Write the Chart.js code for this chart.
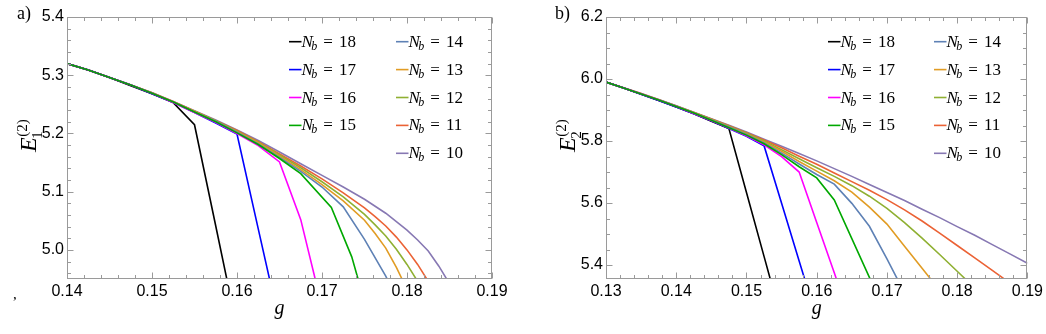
<!DOCTYPE html>
<html><head><meta charset="utf-8">
<script src="https://cdn.jsdelivr.net/npm/chart.js@4.4.1/dist/chart.umd.min.js"></script>
<style>
html,body{margin:0;padding:0;background:#fff;}
#wrap{position:relative;width:1046px;height:334px;overflow:hidden;}
canvas{position:absolute;left:0;top:0;}
</style></head><body>
<div id="wrap"><canvas id="ca" width="1046" height="334"></canvas><canvas id="cb" width="1046" height="334"></canvas></div>
<script>
// ---------- data: panel a) E1^(2) vs g ----------
const gA = [0.14,0.1425,0.145,0.1475,0.15,0.1525,0.155,0.1575,0.16,0.1625,0.165,0.1675,0.17,0.1725,0.175];
const eA10 = [5.320,5.309,5.296,5.283,5.270,5.255,5.239,5.223,5.206,5.188,5.168,5.148,5.128,5.108,5.087];
const tailA10 = [[0.1775,5.063],[0.18,5.034],[0.18125,5.017],[0.1825,4.998],[0.18375,4.972],[0.185,4.942],[0.18625,4.905]];
const eA11 = [5.320,5.309,5.296,5.283,5.270,5.255,5.238,5.222,5.205,5.186,5.165,5.144,5.122,5.098,5.072];
const tailA11 = [[0.17625,5.057],[0.1775,5.041],[0.17875,5.022],[0.18,5.000],[0.18125,4.975],[0.1825,4.946],[0.18375,4.912]];
const eA12 = [5.320,5.309,5.296,5.283,5.270,5.254,5.238,5.222,5.204,5.185,5.163,5.141,5.117,5.091,5.061];
const tailA12 = [[0.17625,5.043],[0.1775,5.024],[0.17875,5.001],[0.18,4.975],[0.18125,4.946],[0.1825,4.915]];
const eA13 = [5.320,5.309,5.296,5.283,5.269,5.254,5.238,5.221,5.203,5.184,5.161,5.138,5.112,5.084,5.051];
const tailA13 = [[0.17625,5.028],[0.1775,5.003],[0.17875,4.970],[0.18,4.932]];
const eA14 = [5.320,5.309,5.296,5.283,5.269,5.254,5.237,5.221,5.202,5.182,5.159,5.135,5.108,5.074,5.018];
const tailA14 = [[0.1775,4.955],[0.18,4.880]];
const eA15 = [5.320,5.309,5.296,5.283,5.269,5.254,5.237,5.220,5.201,5.181,5.157,5.131];
const tailA15 = [[0.1711,5.073],[0.1735,4.988],[0.176,4.860]];
const eA16 = [5.320,5.309,5.296,5.283,5.269,5.253,5.236,5.219,5.200,5.179,5.151,5.052,4.902];
const eA17 = [5.320,5.309,5.296,5.283,5.268,5.253,5.236,5.218,5.199,5.036,4.874];
const eA18 = [5.320,5.309,5.296,5.282,5.268,5.253,5.215,5.041,4.866];

// ---------- data: panel b) E2^(2) vs g ----------
const gB = [0.13,0.1325,0.135,0.1375,0.14,0.1425,0.145,0.1475,0.15,0.1525,0.155,0.1575,0.16,0.1625,0.165,0.1675,0.17,0.1725,0.175,0.1775,0.18,0.1825,0.185,0.1875,0.19];
const eB10 = [5.990,5.972,5.953,5.934,5.914,5.893,5.872,5.851,5.829,5.806,5.783,5.760,5.736,5.711,5.686,5.660,5.634,5.608,5.580,5.553,5.524,5.496,5.466,5.436,5.406];
const eB11 = [5.990,5.972,5.953,5.933,5.913,5.892,5.871,5.849,5.827,5.803,5.778,5.751,5.725,5.697,5.669,5.641,5.611,5.578,5.542,5.503,5.463,5.423,5.383,5.342];
const eB12 = [5.990,5.971,5.952,5.933,5.913,5.892,5.870,5.848,5.825,5.800,5.772,5.743,5.714,5.686,5.656,5.622,5.583,5.537,5.487,5.434,5.380,5.326];
const eB13 = [5.990,5.971,5.952,5.933,5.912,5.891,5.869,5.846,5.823,5.797,5.767,5.734,5.703,5.672,5.635,5.587,5.532,5.461,5.390,5.318];
const eB14 = [5.990,5.971,5.952,5.932,5.912,5.890,5.868,5.845,5.821,5.794,5.761,5.726,5.692,5.661,5.599,5.525,5.420,5.310];
const eB15 = [5.990,5.971,5.952,5.932,5.911,5.890,5.867,5.843,5.819,5.791,5.756,5.717,5.681,5.610,5.485,5.360,5.235];
const eB16 = [5.990,5.971,5.952,5.932,5.911,5.889,5.866,5.842,5.817,5.788,5.750,5.700,5.537,5.375,5.210];
const eB17 = [5.990,5.971,5.951,5.931,5.910,5.888,5.865,5.840,5.815,5.785,5.599,5.413,5.227];
const eB18 = [5.990,5.971,5.951,5.931,5.910,5.888,5.864,5.840,5.634,5.428,5.222];

// ---------- ticks & legend ----------
const xTicksA = [0.14,0.15,0.16,0.17,0.18,0.19];
const xLabelsA = ['0.14','0.15','0.16','0.17','0.18','0.19'];
const yTicksA = [5.0,5.1,5.2,5.3,5.4];
const yLabelsA = ['5.0','5.1','5.2','5.3','5.4'];
const xTicksB = [0.13,0.14,0.15,0.16,0.17,0.18,0.19];
const xLabelsB = ['0.13','0.14','0.15','0.16','0.17','0.18','0.19'];
const yTicksB = [5.4,5.6,5.8,6.0,6.2];
const yLabelsB = ['5.4','5.6','5.8','6.0','6.2'];
const legendCol1 = [18,17,16,15];
const legendCol2 = [14,13,12,11,10];
const drawOrder = [15,16,17,18,14,13,12,11,10]; // first = on top

const COLORS = {18:'#000000',17:'#0000ff',16:'#ff00ff',15:'#00a800',14:'#5e81b5',13:'#e19c24',12:'#8fb032',11:'#eb6235',10:'#8778b3'};
const FRAME = '#9a9a9a';
const SERIF = '"Liberation Serif", "DejaVu Serif", serif';
const SANS = '"Liberation Sans", Arial, sans-serif';

function pts(grid, vals, tail) {
  const p = vals.map((v, i) => ({x: grid[i], y: v}));
  return tail ? p.concat(tail.map(t => ({x: t[0], y: t[1]}))) : p;
}
const dataA = {10:pts(gA,eA10,tailA10),11:pts(gA,eA11,tailA11),12:pts(gA,eA12,tailA12),13:pts(gA,eA13,tailA13),14:pts(gA,eA14,tailA14),15:pts(gA,eA15,tailA15),16:pts(gA,eA16),17:pts(gA,eA17),18:pts(gA,eA18)};
const dataB = {10:pts(gB,eB10),11:pts(gB,eB11),12:pts(gB,eB12),13:pts(gB,eB13),14:pts(gB,eB14),15:pts(gB,eB15),16:pts(gB,eB16),17:pts(gB,eB17),18:pts(gB,eB18)};

function drawNb(ctx, x, yMid, n) {
  const base = yMid + 5;
  ctx.fillStyle = '#000'; ctx.textBaseline = 'alphabetic'; ctx.textAlign = 'left';
  ctx.font = 'italic 17px ' + SERIF;
  ctx.fillText('N', x, base);
  let w = ctx.measureText('N').width;
  ctx.font = 'italic 12px ' + SERIF;
  ctx.fillText('b', x + w - 1.5, base + 3);
  w += ctx.measureText('b').width - 1.5;
  ctx.font = '17px ' + SERIF;
  w += 6;
  ctx.fillText('=', x + w, base);
  w += ctx.measureText('=').width + 6;
  ctx.fillText(String(n), x + w, base);
}

function decor(cfg) {
  return {
    id: 'decor',
    afterDatasetsDraw(chart) {
      const {ctx, chartArea: ca, scales: {x, y}} = chart;
      ctx.save();
      ctx.strokeStyle = FRAME; ctx.lineWidth = 1;
      const L = Math.round(ca.left) + 0.5, R = Math.round(ca.right) - 0.5;
      const T = Math.round(ca.top) + 0.5, B = Math.round(ca.bottom) - 0.5;
      ctx.strokeRect(L, T, R - L, B - T);
      ctx.beginPath();
      const xs = (cfg.xmax - cfg.xmin) / cfg.xMinorStep;
      for (let i = 0; i <= Math.round(xs); i++) {
        const v = cfg.xmin + i * cfg.xMinorStep;
        const major = cfg.xTicks.some(t => Math.abs(t - v) < 1e-9);
        const len = major ? 6 : 3.5;
        const px = Math.round(x.getPixelForValue(v)) + 0.5;
        ctx.moveTo(px, B); ctx.lineTo(px, B - len);
        ctx.moveTo(px, T); ctx.lineTo(px, T + len);
      }
      const ys = (cfg.ymax - cfg.yMinorStart) / cfg.yMinorStep;
      for (let i = 0; i <= Math.round(ys); i++) {
        const v = cfg.yMinorStart + i * cfg.yMinorStep;
        const major = cfg.yTicks.some(t => Math.abs(t - v) < 1e-9);
        const len = major ? 6 : 3.5;
        const py = Math.round(y.getPixelForValue(v)) + 0.5;
        ctx.moveTo(L, py); ctx.lineTo(L + len, py);
        ctx.moveTo(R, py); ctx.lineTo(R - len, py);
      }
      ctx.stroke();
      // legend
      const rows = [41.7, 69.6, 97.5, 125.4, 153.3];
      const cols = [[legendCol1, cfg.legX1], [legendCol2, cfg.legX2]];
      for (const [list, lx] of cols) {
        list.forEach((n, r) => {
          ctx.strokeStyle = COLORS[n]; ctx.lineWidth = 1.6;
          ctx.beginPath(); ctx.moveTo(lx, rows[r]); ctx.lineTo(lx + 12.5, rows[r]); ctx.stroke();
          drawNb(ctx, lx + 12.5, rows[r], n);
        });
      }
      // x title g
      ctx.fillStyle = '#000';
      ctx.font = 'italic 20px ' + SERIF; ctx.textAlign = 'center'; ctx.textBaseline = 'alphabetic';
      ctx.fillText('g', (ca.left + ca.right) / 2, 314);
      // y title E_k^(2)
      ctx.save();
      ctx.translate(cfg.titleX, 152); ctx.rotate(-Math.PI / 2);
      ctx.textAlign = 'left';
      ctx.font = 'italic 24px ' + SERIF;
      ctx.fillText('E', 0, 0);
      const w = ctx.measureText('E').width;
      ctx.font = '15px ' + SERIF;
      ctx.fillText(cfg.sub, w - 1.5, 6);
      ctx.fillText('(2)', w + 0.5, -9.5);
      ctx.restore();
      // panel letter
      ctx.font = '18px ' + SERIF; ctx.textAlign = 'left';
      ctx.fillText(cfg.letter, cfg.letterX, 19);
      if (cfg.comma) { ctx.font = '15px ' + SERIF; ctx.fillText(',', 13, 299); }
      ctx.restore();
    }
  };
}

function makeChart(id, cfg) {
  return new Chart(document.getElementById(id), {
    type: 'line',
    data: {
      datasets: drawOrder.map(n => ({
        label: 'N_b = ' + n, data: cfg.data[n], borderColor: COLORS[n], backgroundColor: COLORS[n],
        borderWidth: 1.6, pointRadius: 0, tension: 0, fill: false, clip: 0
      }))
    },
    options: {
      responsive: false, animation: false, devicePixelRatio: 1,
      layout: {padding: {left: 0, right: cfg.padR, top: 17, bottom: 0}},
      plugins: {legend: {display: false}, tooltip: {enabled: false}},
      scales: {
        x: {
          type: 'linear', min: cfg.xmin, max: cfg.xmax,
          grid: {display: false, drawTicks: false}, border: {display: false},
          afterBuildTicks: s => { s.ticks = cfg.xTicks.map(v => ({value: v})); },
          afterFit: s => { s.height = 55; },
          ticks: {autoSkip: false, maxRotation: 0, padding: 3, color: '#000',
                  font: {family: SANS, size: 16}, callback: (v, i) => cfg.xLabels[i]}
        },
        y: {
          type: 'linear', min: cfg.ymin, max: cfg.ymax,
          grid: {display: false, drawTicks: false}, border: {display: false},
          afterBuildTicks: s => { s.ticks = cfg.yTicks.map(v => ({value: v})); },
          afterFit: s => { s.width = cfg.yw; },
          ticks: {autoSkip: false, padding: 3, color: '#000',
                  font: {family: SANS, size: 16}, callback: (v, i) => cfg.yLabels[i]}
        }
      }
    },
    plugins: [decor(cfg)]
  });
}

makeChart('ca', {
  data: dataA, xmin: 0.14, xmax: 0.19, ymin: 4.95, ymax: 5.4,
  xTicks: xTicksA, xLabels: xLabelsA, yTicks: yTicksA, yLabels: yLabelsA,
  xMinorStep: 0.002, yMinorStep: 0.02, yMinorStart: 4.96,
  yw: 67, padR: 1046 - 492, legX1: 289, legX2: 396,
  titleX: 36, sub: '1', letter: 'a)', letterX: 17, comma: true
});
makeChart('cb', {
  data: dataB, xmin: 0.13, xmax: 0.19, ymin: 5.355, ymax: 6.2,
  xTicks: xTicksB, xLabels: xLabelsB, yTicks: yTicksB, yLabels: yLabelsB,
  xMinorStep: 0.002, yMinorStep: 0.05, yMinorStart: 5.4,
  yw: 606, padR: 16, legX1: 828, legX2: 934,
  titleX: 575, sub: '2', letter: 'b)', letterX: 555, comma: false
});
</script>
</body></html>
